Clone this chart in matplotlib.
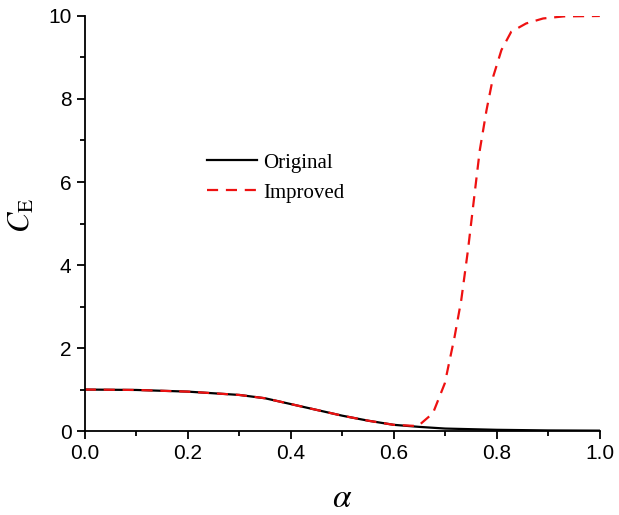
import numpy as np
import matplotlib.pyplot as plt
from matplotlib.ticker import MultipleLocator

# values
alpha_orig = [0.0, 0.1, 0.2, 0.3, 0.35, 0.4, 0.45, 0.5, 0.55, 0.6, 0.65, 0.7, 0.8, 0.9, 1.0]
ce_orig = [1.0, 0.99, 0.95, 0.87, 0.79, 0.65, 0.51, 0.37, 0.25, 0.15, 0.10, 0.06, 0.03, 0.015, 0.01]

alpha_impr = [0.0, 0.1, 0.2, 0.3, 0.35, 0.4, 0.45, 0.5, 0.55, 0.6, 0.647, 0.676, 0.699,
              0.718, 0.731, 0.744, 0.757, 0.767, 0.780, 0.793, 0.809, 0.828, 0.857,
              0.890, 0.93, 1.0]
ce_impr = [1.0, 0.99, 0.95, 0.87, 0.79, 0.65, 0.51, 0.37, 0.25, 0.15, 0.12, 0.43, 1.15,
           2.27, 3.16, 4.36, 5.73, 6.77, 7.73, 8.54, 9.18, 9.62, 9.82,
           9.94, 9.99, 10.0]

plt.rcParams['font.family'] = ['Liberation Sans', 'DejaVu Sans']
plt.rcParams['mathtext.fontset'] = 'stix'

fig = plt.figure(figsize=(6.19, 5.15), dpi=100)
ax = fig.add_axes([0.137, 0.163, 0.832, 0.806])

ax.plot(alpha_orig, ce_orig, color='black', lw=1.6, label='Original')
ax.plot(alpha_impr, ce_impr, color='#ee1111', lw=1.6, ls=(0, (5, 3.5)), label='Improved')

ax.set_xlim(0, 1.0)
ax.set_ylim(0, 10)
ax.xaxis.set_major_locator(MultipleLocator(0.2))
ax.xaxis.set_minor_locator(MultipleLocator(0.1))
ax.yaxis.set_major_locator(MultipleLocator(2))
ax.yaxis.set_minor_locator(MultipleLocator(1))
ax.xaxis.set_major_formatter(lambda v, p: f"{v:.1f}")
ax.spines['top'].set_visible(False)
ax.spines['right'].set_visible(False)
for s in ('left', 'bottom'):
    ax.spines[s].set_linewidth(1.3)
ax.tick_params(which='major', direction='out', length=6, width=1.3, labelsize=15)
ax.tick_params(which='minor', direction='out', length=3.5, width=1.3)

ax.set_xlabel(r'$\alpha$', fontsize=24)
ax.xaxis.set_label_coords(0.5, -0.125)
ax.set_ylabel(r'$C_{\mathrm{E}}$', fontsize=22)
ax.yaxis.set_label_coords(-0.093, 0.52)

leg = ax.legend(loc='upper left', bbox_to_anchor=(0.2, 0.715), frameon=False,
                prop={'family': 'Liberation Serif', 'size': 15},
                handlelength=2.4, handletextpad=0.3, labelspacing=0.5)

fig.savefig('out.png', dpi=100)
